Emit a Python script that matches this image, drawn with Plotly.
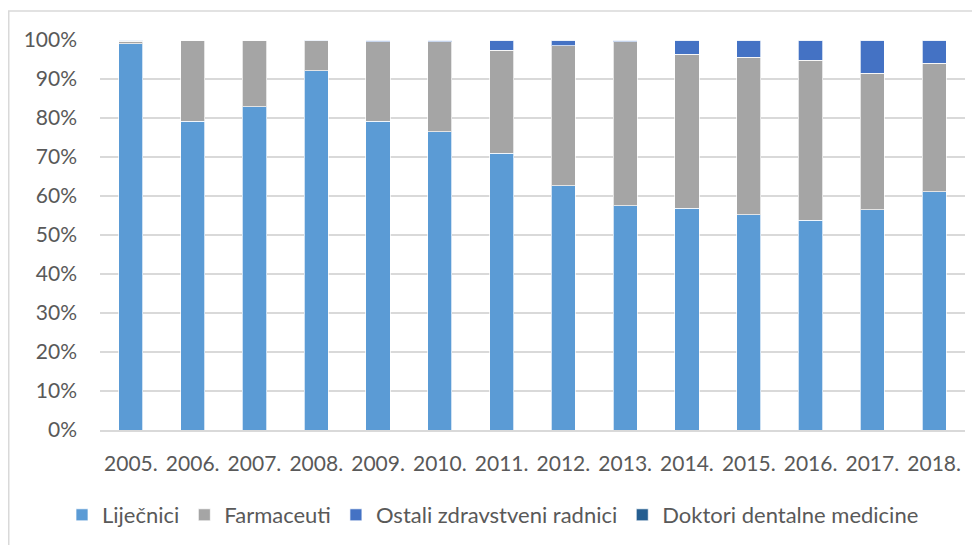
import plotly.graph_objects as go

years = ["2005.", "2006.", "2007.", "2008.", "2009.", "2010.", "2011.",
         "2012.", "2013.", "2014.", "2015.", "2016.", "2017.", "2018."]
lijecnici = [99.0, 79.2, 82.9, 92.1, 79.2, 76.5, 70.9, 62.6, 57.5, 56.8, 55.2, 53.8, 56.5, 61.1]
farmaceuti = [0.7, 20.8, 17.1, 7.7, 20.4, 23.0, 26.5, 35.9, 42.1, 39.6, 40.4, 41.0, 35.0, 33.0]
ostali = [0.3, 0.0, 0.0, 0.2, 0.4, 0.5, 2.6, 1.5, 0.4, 3.6, 4.4, 5.2, 8.5, 5.9]
doktori = [0.0, 0.0, 0.0, 0.0, 0.0, 0.0, 0.0, 0.0, 0.0, 0.0, 0.0, 0.0, 0.0, 0.0]

series = [
    ("Liječnici", lijecnici, "#5b9bd5"),
    ("Farmaceuti", farmaceuti, "#a5a5a5"),
    ("Ostali zdravstveni radnici", ostali, "#4472c4"),
    ("Doktori dentalne medicine", doktori, "#255e91"),
]

FONT = "Lato"
TXT = "#595959"

fig = go.Figure()
for name, vals, color in series:
    fig.add_trace(go.Bar(
        x=years, y=vals, name=name,
        marker=dict(color=color, line=dict(color="rgba(255,255,255,0.7)", width=1)),
    ))

OFF = 8  # page body margin
W, H = 980, 545
L, T = 100 - OFF, 40 - OFF
R, B = W - (965 - OFF), H - (430 - OFF)
pw, ph = W - L - R, H - T - B
ybot = 430 - OFF

fig.update_layout(
    width=W, height=H,
    barmode="stack", bargap=0.61,
    margin=dict(l=L, r=R, t=T, b=B, pad=0),
    paper_bgcolor="white", plot_bgcolor="white",
    font=dict(family=FONT, size=21, color=TXT),
    showlegend=True,
    legend=dict(orientation="h", x=(62 - OFF - L) / pw, xanchor="left",
                y=-(515 - OFF - ybot) / ph, yanchor="middle",
                font=dict(family=FONT, size=22, color=TXT),
                itemclick=False, traceorder="normal",
                itemwidth=30, tracegroupgap=0),
    xaxis=dict(showgrid=False, showline=True, linecolor="#d9d9d9", linewidth=1.5,
               ticks="", tickfont=dict(family=FONT, size=21, color=TXT),
               ticklabelstandoff=14),
    yaxis=dict(range=[0, 100], dtick=10, ticksuffix="%", showgrid=True,
               gridcolor="#d9d9d9", gridwidth=1.5, zeroline=False, showline=False,
               ticks="", tickfont=dict(family=FONT, size=21, color=TXT),
               ticklabelstandoff=22),
    shapes=[dict(type="rect", xref="paper", yref="paper",
                 x0=(0.75 - L) / pw, x1=(990 - L) / pw,
                 y0=-(560 - ybot) / ph, y1=(ybot - 3) / ph,
                 line=dict(color="#d9d9d9", width=1.5), fillcolor="rgba(0,0,0,0)",
                 layer="below")],
)

fig.write_html("out.html")
